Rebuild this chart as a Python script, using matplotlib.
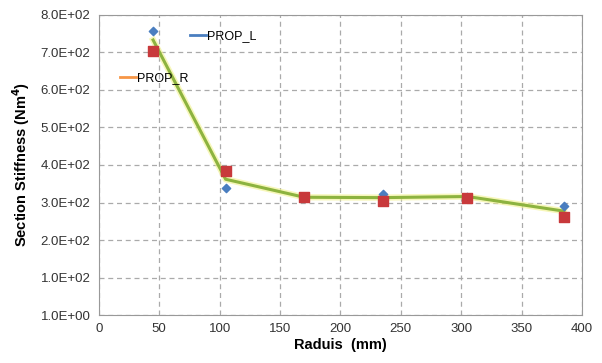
import matplotlib
matplotlib.use("Agg")
from matplotlib import pyplot as plt
from matplotlib.lines import Line2D

# data
radius = [45, 105, 170, 235, 305, 385]
prop_l = [757, 339, 316, 323, 316, 291]
prop_r = [704, 384, 314, 303, 313, 261]
trend = [733, 362, 314, 313, 316, 277]
y_ticks = [0, 100, 200, 300, 400, 500, 600, 700, 800]
y_labels = ["1.0E+00", "1.0E+02", "2.0E+02", "3.0E+02", "4.0E+02",
            "5.0E+02", "6.0E+02", "7.0E+02", "8.0E+02"]

plt.rcParams["font.family"] = "Liberation Sans"
fig = plt.figure(figsize=(6.02, 3.63), dpi=100)
ax = fig.add_axes([0.164, 0.132, 0.803, 0.827])

ax.plot(radius, trend, color="#F2F28C", lw=4.5, alpha=0.6, zorder=2)
ax.plot(radius, trend, color="#8DB33F", lw=2.2, zorder=3)
ax.scatter(radius, prop_l, marker="D", s=18, color="#4A7EC0", zorder=4)
ax.scatter(radius, prop_r, marker="s", s=55, color="#C8393B", zorder=4)

ax.set_xlim(0, 400)
ax.set_ylim(0, 800)
ax.set_xticks(range(0, 401, 50))
ax.set_yticks(y_ticks)
ax.set_yticklabels(y_labels)
ax.tick_params(length=0, labelsize=9.5, colors="#333333", pad=6)
ax.grid(True, linestyle=(0, (4, 3)), color="#AAAAAA", lw=0.9)
ax.set_axisbelow(True)
for sp in ax.spines.values():
    sp.set_color("#999999")

ax.set_xlabel("Raduis  (mm)", fontsize=10.5, fontweight="bold", labelpad=2)
ax.set_ylabel("Section Stiffness (Nm$^\\mathbf{4}$)", fontsize=10.5, fontweight="bold", labelpad=6)

leg1 = ax.legend([Line2D([], [], color="#4A7EC0", lw=2)], ["PROP_L"],
                 loc="center left", bbox_to_anchor=(0.165, 0.93), frameon=False,
                 handlelength=1.3, handletextpad=0.1, fontsize=9)
ax.add_artist(leg1)
ax.legend([Line2D([], [], color="#F79646", lw=2)], ["PROP_R"],
          loc="center left", bbox_to_anchor=(0.02, 0.79), frameon=False,
          handlelength=1.3, handletextpad=0.1, fontsize=9)

fig.savefig("out.png", dpi=100)
